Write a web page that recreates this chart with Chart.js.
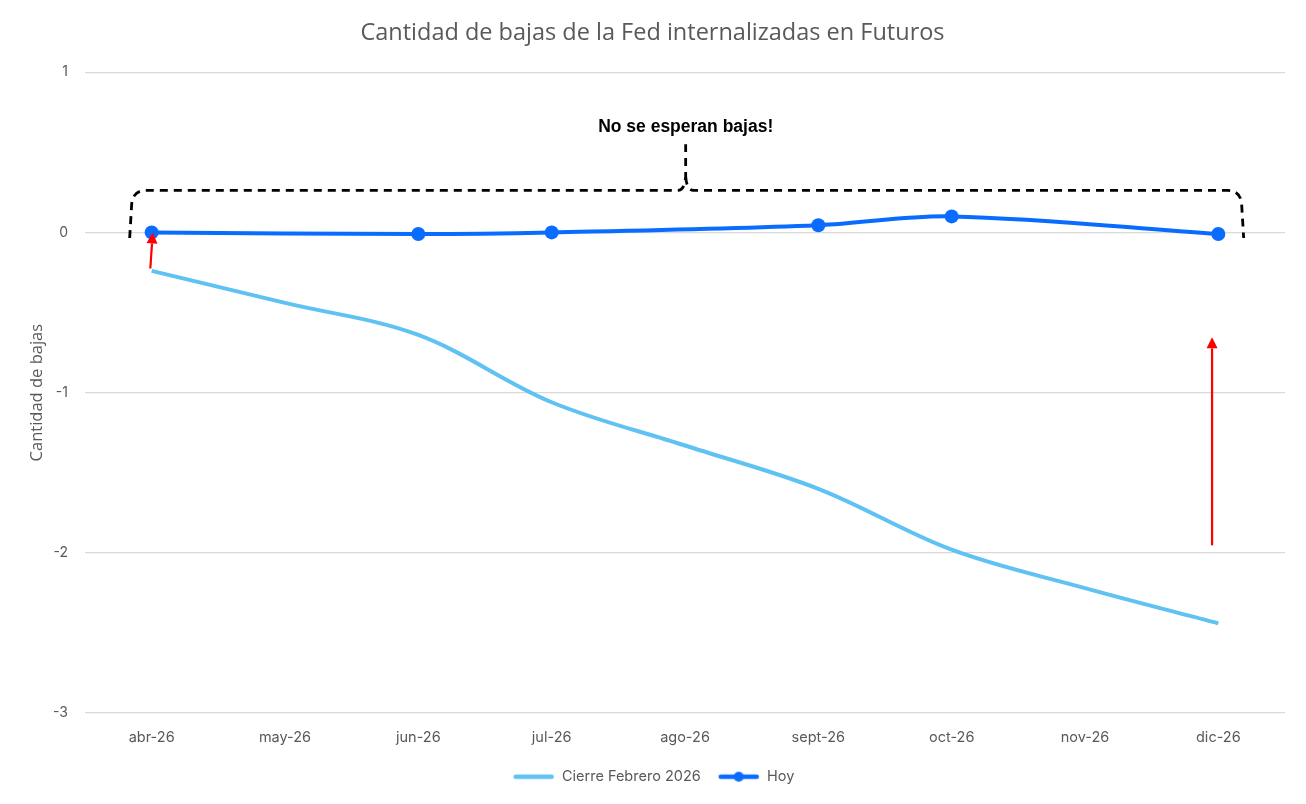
<!DOCTYPE html>
<html>
<head>
<meta charset="utf-8">
<script src="https://cdn.jsdelivr.net/npm/chart.js@4.4.1/dist/chart.umd.min.js"></script>
<style>
  html, body { margin: 0; padding: 0; background: #fff; }
  #chart { display: block; }
</style>
</head>
<body>
<canvas id="chart" width="1306" height="804"></canvas>
<script>
const months = ["abr-26", "may-26", "jun-26", "jul-26", "ago-26", "sept-26", "oct-26", "nov-26", "dic-26"];
const cierreFebrero = [-0.24, -0.44, -0.64, -1.06, -1.33, -1.60, -1.98, -2.22, -2.44];
const hoy = [0.0, null, -0.01, 0.0, null, 0.045, 0.10, null, -0.01];
const yTicks = [1, 0, -1, -2, -3];

const LIGHT = "#5FC2F3";
const DARK = "#0A6CFF";
const GREY = "#595959";

/* legend swatches: line, and line with dot */
function swatch(withDot, color) {
  const c = document.createElement("canvas");
  c.width = 44; c.height = 12;
  const g = c.getContext("2d");
  g.strokeStyle = color;
  g.lineWidth = 4.5;
  g.lineCap = "round";
  g.beginPath(); g.moveTo(5, 6); g.lineTo(41, 6); g.stroke();
  if (withDot) {
    g.fillStyle = color;
    g.beginPath(); g.arc(23, 6, 5, 0, Math.PI * 2); g.fill();
  }
  return c;
}

/* brace, text and red arrows placed in data units (category index, value) */
const notes = {
  id: "notes",
  afterDatasetsDraw(chart) {
    const { ctx, scales: { x, y } } = chart;
    const x0 = x.getPixelForValue(0), x1 = x.getPixelForValue(1);
    const px = i => x0 + i * (x1 - x0);
    const py = v => y.getPixelForValue(v);

    ctx.save();
    // dashed brace
    ctx.strokeStyle = "#000";
    ctx.lineWidth = 2.8;
    ctx.setLineDash([8, 6]);
    const L = px(-0.165), R = px(8.19), M = px(4.005);
    const top = py(0.262), bot = py(-0.035), tip = py(0.55);
    ctx.beginPath();
    ctx.moveTo(L, bot);
    ctx.lineTo(L + 2, top + 14);
    ctx.quadraticCurveTo(L + 3, top, L + 16, top);
    ctx.lineTo(M - 8, top);
    ctx.quadraticCurveTo(M - 1, top, M, top - 14);
    ctx.lineTo(M, tip);
    ctx.moveTo(M, top - 14);
    ctx.quadraticCurveTo(M + 1, top, M + 8, top);
    ctx.lineTo(R - 16, top);
    ctx.quadraticCurveTo(R - 3, top, R - 2, top + 14);
    ctx.lineTo(R, bot);
    ctx.stroke();
    ctx.setLineDash([]);

    // label
    ctx.fillStyle = "#000";
    ctx.font = "bold 17.5px 'Liberation Sans', Arial, sans-serif";
    ctx.textAlign = "center";
    ctx.textBaseline = "middle";
    ctx.fillText("No se esperan bajas!", M, py(0.655));

    // red arrows
    function arrow(i0, v0, i1, v1) {
      const ax = px(i0), ay = py(v0), bx = px(i1), by = py(v1);
      const ang = Math.atan2(by - ay, bx - ax);
      const head = 11, half = 5.5;
      ctx.strokeStyle = "#FF0000";
      ctx.fillStyle = "#FF0000";
      ctx.lineWidth = 2.2;
      ctx.beginPath();
      ctx.moveTo(ax, ay);
      ctx.lineTo(bx - Math.cos(ang) * head, by - Math.sin(ang) * head);
      ctx.stroke();
      ctx.beginPath();
      ctx.moveTo(bx, by);
      ctx.lineTo(bx - Math.cos(ang) * head + Math.sin(ang) * half, by - Math.sin(ang) * head - Math.cos(ang) * half);
      ctx.lineTo(bx - Math.cos(ang) * head - Math.sin(ang) * half, by - Math.sin(ang) * head + Math.cos(ang) * half);
      ctx.closePath();
      ctx.fill();
    }
    arrow(-0.01, -0.225, 0.008, 0.0);
    arrow(7.953, -1.953, 7.953, -0.655);
    ctx.restore();
  }
};

new Chart(document.getElementById("chart"), {
  type: "line",
  data: {
    labels: months,
    datasets: [
      {
        label: "Cierre Febrero 2026",
        data: cierreFebrero,
        borderColor: LIGHT,
        backgroundColor: LIGHT,
        borderWidth: 4,
        pointRadius: 0,
        pointHoverRadius: 0,
        tension: 0.35
      },
      {
        label: "Hoy",
        data: hoy,
        borderColor: DARK,
        backgroundColor: DARK,
        borderWidth: 4,
        pointRadius: 7,
        pointBackgroundColor: DARK,
        pointBorderWidth: 0,
        spanGaps: true,
        tension: 0.35,
        pointStyle: "circle"
      }
    ]
  },
  options: {
    responsive: false,
    devicePixelRatio: 1,
    animation: false,
    layout: { padding: { left: 20, right: 21, top: 6, bottom: 10 } },
    plugins: {
      title: {
        display: true,
        text: "Cantidad de bajas de la Fed internalizadas en Futuros",
        color: GREY,
        font: { family: "'Open Sans', sans-serif", size: 23.5, weight: "normal" },
        padding: { top: 13, bottom: 25 }
      },
      legend: {
        position: "bottom",
        labels: {
          usePointStyle: true,
          pointStyleWidth: 44,
          color: GREY,
          font: { family: "Inter, 'Open Sans', sans-serif", size: 14.5 },
          padding: 15,
          boxHeight: 12,
          generateLabels(chart) {
            return chart.data.datasets.map((ds, i) => ({
              text: ds.label,
              pointStyle: swatch(i === 1, ds.borderColor),
              fontColor: GREY,
              lineWidth: 0,
              hidden: false,
              datasetIndex: i
            }));
          }
        }
      },
      tooltip: { enabled: false }
    },
    scales: {
      x: {
        offset: true,
        grid: { display: false },
        border: { display: false },
        ticks: {
          color: GREY,
          font: { family: "Inter, 'Open Sans', sans-serif", size: 14.5 },
          padding: 8
        }
      },
      y: {
        min: -3,
        max: 1,
        afterBuildTicks(axis) { axis.ticks = yTicks.map(v => ({ value: v })); },
        afterFit(axis) { axis.width = 65; },
        grid: { color: "#D9D9D9", lineWidth: 1.3, drawTicks: false },
        border: { display: false },
        ticks: {
          color: GREY,
          font: { family: "Inter, 'Open Sans', sans-serif", size: 14 },
          padding: 17
        },
        title: {
          display: true,
          text: "Cantidad de bajas",
          color: GREY,
          font: { family: "'Open Sans', sans-serif", size: 16.5 },
          padding: { top: 7, bottom: 0 }
        }
      }
    }
  },
  plugins: [notes]
});
</script>
</body>
</html>
